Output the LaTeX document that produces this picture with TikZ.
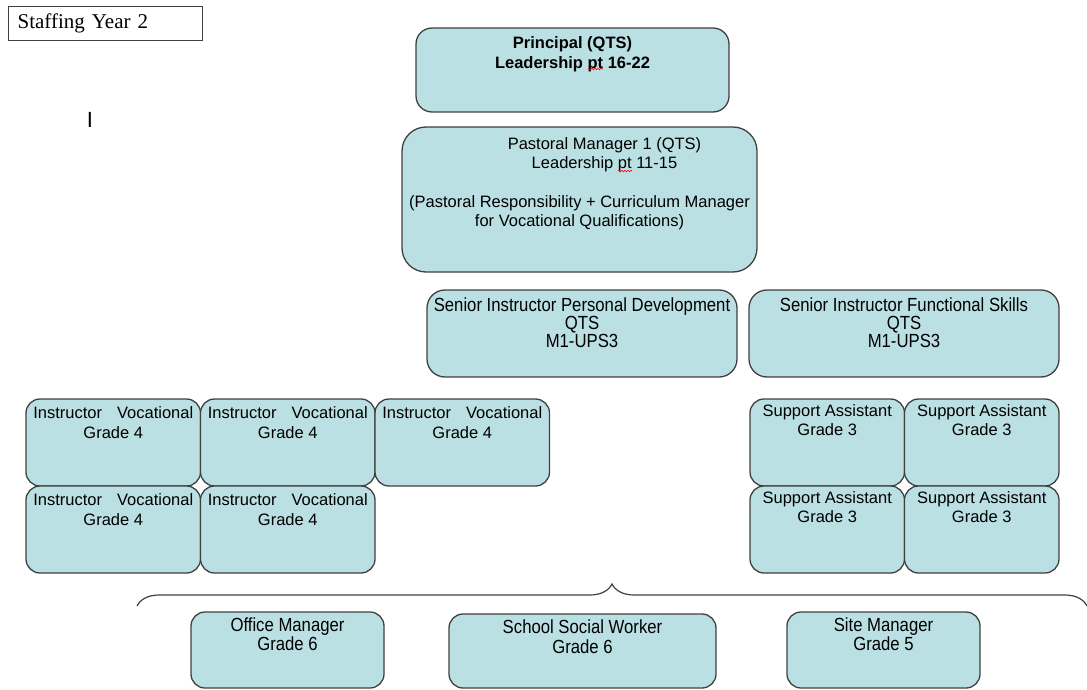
\documentclass[tikz,border=0pt]{standalone}
\usepackage{fontspec}
\setmainfont{Liberation Sans}
\newfontfamily\titlefont{Liberation Serif}
\newfontfamily\narrowsans[FakeStretch=0.88]{Liberation Sans}
\usetikzlibrary{positioning,decorations.pathreplacing,decorations.pathmorphing}

\definecolor{postfill}{RGB}{187,224,227}
\definecolor{postline}{RGB}{64,64,64}

\tikzset{
  post/.style={draw=postline, line width=1.3pt, fill=postfill, rounded corners=14pt,
    inner sep=0pt, outer sep=0pt},
  posttext/.style={inner sep=0pt, align=center, anchor=north,
    font=\fontsize{16.5}{19}\selectfont},
  narrowtext/.style={posttext, font=\narrowsans\fontsize{19}{19}\selectfont},
  squiggle/.style={red, line width=0.6pt, decorate,
    decoration={snake, amplitude=0.8pt, segment length=3pt}},
}

\newcommand{\instrvoc}{\makebox[160pt]{Instructor\hfill Vocational}\\Grade 4}
\newcommand{\suppass}{Support Assistant\\Grade 3}

\begin{document}
\begin{tikzpicture}[x=1pt, y=-1pt]
    \useasboundingbox (0,0) rectangle (1087,690);

    % heading
    \node[draw=postline, line width=1.2pt, anchor=north west, minimum height=34pt,
      text width=176pt, inner xsep=9pt, inner ysep=0pt, align=left,
      font=\titlefont\fontsize{21}{24}\selectfont] (title) at (8,6) {Staffing Year 2};
    \node[inner sep=0pt, font=\fontsize{22}{24}\selectfont] (cursor) at (90,120) {I};

    % leadership
    \node[post, rounded corners=16pt, minimum width=313pt, minimum height=84pt] (prin) at (572.5,70) {};
    \node[posttext, font=\bfseries\fontsize{16.5}{20}\selectfont, below=8pt of prin.north] (prin-t)
      {Principal (QTS)\\Leadership pt 16-22};
    \draw[squiggle] (588,69) -- (603,69);

    \node[post, rounded corners=24pt, minimum width=355pt, minimum height=145pt] (past) at (579.5,199.5) {};
    \node[posttext, below=10pt of past.north] (past-t)
      {\hspace*{50pt}Pastoral Manager 1 (QTS)\\\hspace*{50pt}Leadership pt 11-15\\[20pt]
       (Pastoral Responsibility + Curriculum Manager\\for Vocational Qualifications)};
    \draw[squiggle] (618,171) -- (632,171);

    % senior instructors
    \node[post, rounded corners=18pt, minimum width=310pt, minimum height=87pt] (sipd) at (582,333.5) {};
    \node[narrowtext, font=\narrowsans\fontsize{19}{18}\selectfont, below=8pt of sipd.north] (sipd-t)
      {Senior Instructor Personal Development\\QTS\\M1-UPS3};
    \node[post, rounded corners=18pt, minimum width=310pt, minimum height=87pt] (sifs) at (904,333.5) {};
    \node[narrowtext, font=\narrowsans\fontsize{19}{18}\selectfont, below=8pt of sifs.north] (sifs-t)
      {Senior Instructor Functional Skills\\QTS\\M1-UPS3};

    % instructors
    \node[post, minimum width=174.5pt, minimum height=87pt] (iv1) at (113.25,442.5) {};
    \node[post, minimum width=174.5pt, minimum height=87pt, right=0pt of iv1] (iv2) {};
    \node[post, minimum width=174.5pt, minimum height=87pt, right=0pt of iv2] (iv3) {};
    \node[post, minimum width=174.5pt, minimum height=87pt, below=0pt of iv1] (iv4) {};
    \node[post, minimum width=174.5pt, minimum height=87pt, right=0pt of iv4] (iv5) {};
    \node[posttext, font=\fontsize{16.5}{20}\selectfont, below=7pt of iv1.north] (iv1-t) {\instrvoc};
    \node[posttext, font=\fontsize{16.5}{20}\selectfont, below=7pt of iv2.north] (iv2-t) {\instrvoc};
    \node[posttext, font=\fontsize{16.5}{20}\selectfont, below=7pt of iv3.north] (iv3-t) {\instrvoc};
    \node[posttext, font=\fontsize{16.5}{20}\selectfont, below=7pt of iv4.north] (iv4-t) {\instrvoc};
    \node[posttext, font=\fontsize{16.5}{20}\selectfont, below=7pt of iv5.north] (iv5-t) {\instrvoc};

    % support assistants
    \node[post, minimum width=154.5pt, minimum height=87pt] (sa1) at (827.25,442.5) {};
    \node[post, minimum width=154.5pt, minimum height=87pt, right=0pt of sa1] (sa2) {};
    \node[post, minimum width=154.5pt, minimum height=87pt, below=0pt of sa1] (sa3) {};
    \node[post, minimum width=154.5pt, minimum height=87pt, right=0pt of sa3] (sa4) {};
    \node[posttext, below=5pt of sa1.north] (sa1-t) {\suppass};
    \node[posttext, below=5pt of sa2.north] (sa2-t) {\suppass};
    \node[posttext, below=5pt of sa3.north] (sa3-t) {\suppass};
    \node[posttext, below=5pt of sa4.north] (sa4-t) {\suppass};

    % support staff
    \coordinate (brace-l) at (137,606);
    \coordinate (brace-r) at (1087,606);
    \draw[postline, line width=1.2pt, decorate, decoration={brace, amplitude=22pt}] (brace-l) -- (brace-r);

    \node[post, minimum width=193pt, minimum height=76pt] (office) at (287.5,650) {};
    \node[narrowtext, below=6pt of office.north] (office-t) {Office Manager\\Grade 6};
    \node[post, minimum width=267pt, minimum height=74pt] (social) at (582.5,651) {};
    \node[narrowtext, font=\narrowsans\fontsize{19}{20}\selectfont, below=6pt of social.north] (social-t)
      {School Social Worker\\Grade 6};
    \node[post, minimum width=193pt, minimum height=76pt] (site) at (883.5,650) {};
    \node[narrowtext, below=6pt of site.north] (site-t) {Site Manager\\Grade 5};
\end{tikzpicture}
\end{document}
